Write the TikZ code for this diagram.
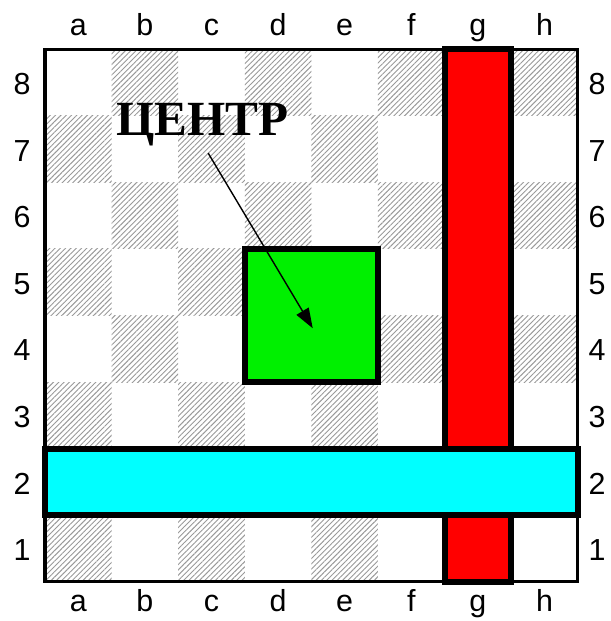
\documentclass[tikz,border=0pt]{standalone}
\usepackage{fontspec}
\setmainfont{Liberation Sans}
\newfontfamily\titlefont{Liberation Serif}
\usetikzlibrary{patterns.meta,arrows.meta}

\definecolor{zonegreen}{RGB}{0,240,0}
\definecolor{zonered}{RGB}{255,0,0}
\definecolor{zonecyan}{RGB}{0,255,255}

\begin{document}
\begin{tikzpicture}[
    % dark squares: fine grey hatching
    darksq/.style={pattern={Lines[angle=45,distance=1.6pt,line width=0.4pt]}, pattern color=gray!80},
    % board frame
    board/.style={line width=1.3pt},
    % coloured zones with heavy border
    zone/.style={draw, line width=2.6pt, inner sep=0pt},
    % file and rank labels
    coord/.style={font=\fontsize{13}{15}\selectfont, anchor=base},
    % caption
    title/.style={font=\titlefont\bfseries\fontsize{21}{25}\selectfont},
    % arrow to the centre
    pointer/.style={line width=0.6pt, -{Triangle[length=8.5pt,width=6pt]}}
]

    % 0. picture margins (one square = 1cm)
    \useasboundingbox (-0.676,-0.586) rectangle (8.498,8.739);

    % 1. dark squares
    \foreach \f in {0,...,7}
      \foreach \r in {0,...,7}{
        \pgfmathparse{int(mod(\f+\r,2))}
        \ifnum\pgfmathresult=0
          \fill[darksq] (\f,\r) rectangle ++(1,1);
        \fi
      }

    % 2. board frame
    \draw[board] (0,0) rectangle (8,8);

    % 3. files and ranks
    \foreach \l [count=\i] in {a,b,c,d,e,f,g,h}{
      \node[coord] (top-\l) at (\i-0.5, 8.21) {\l};
      \node[coord] (bot-\l) at (\i-0.5,-0.45) {\l};
    }
    \foreach \r in {1,...,8}{
      \node[coord] (lft-\r) at (-0.345,\r-0.68) {\r};
      \node[coord] (rgt-\r) at (8.29,\r-0.68) {\r};
    }

    % 4. zones: centre, g-file, 2nd rank
    \node[zone, fill=zonegreen, minimum size=2cm] (centre) at (4,4) {};
    \node[zone, fill=zonered, minimum width=1cm, minimum height=8cm] (gfile) at (6.5,4) {};
    \node[zone, fill=zonecyan, minimum width=8cm, minimum height=1cm] (rank2) at (4,1.5) {};

    % 5. caption with arrow
    \node[title] (lbl) at (2.36,6.87) {ЦЕНТР};
    \coordinate (tail) at (2.45,6.44);
    \coordinate (tip) at (4.02,3.81);
    \draw[pointer] (tail) -- (tip);

\end{tikzpicture}
\end{document}
